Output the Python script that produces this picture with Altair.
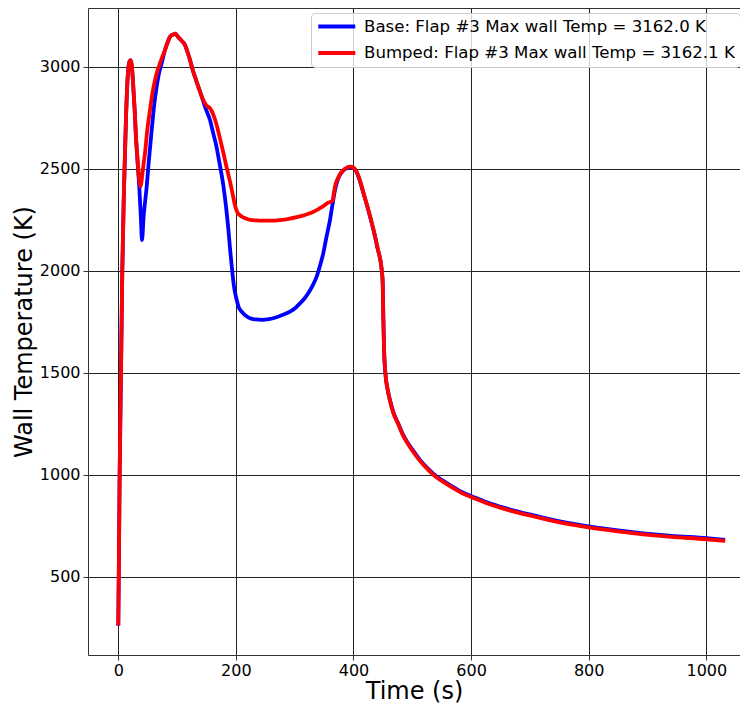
import altair as alt
import pandas as pd

base_label = "Base: Flap #3 Max wall Temp = 3162.0 K"
bumped_label = "Bumped: Flap #3 Max wall Temp = 3162.1 K"

base_time = [0, 1, 2.3, 4.6, 6.8, 9.7, 13, 16, 19, 21, 23, 25.5, 28, 30, 32.5, 35.7, 38.6, 40.3,
             43.1, 48.3, 52, 56.8, 61, 65.3, 69, 73.8, 79.4, 84, 87.9, 93.5, 97, 102, 107, 113.4,
             118, 122, 126, 130.4, 136, 139, 142, 148, 156, 161, 167, 172, 178.6, 183, 187, 190,
             193, 196.8, 201.4, 205, 210, 217, 224, 234, 244, 256, 269, 280, 292, 301, 309, 316,
             323, 330, 337.4, 343, 348.6, 354, 360, 364, 368.5, 373, 377, 382, 388, 395, 400, 405,
             411, 417, 425, 434, 441, 448, 449.7, 450.7, 452, 454.8, 458, 462, 468, 476, 483,
             490.5, 500, 513, 527, 541.5, 556, 569.7, 585, 601, 628, 655, 683, 712, 755, 800, 840,
             882, 940, 1000, 1032]
base_temp = [262, 560, 1000, 1500, 2000, 2400, 2740, 2950, 3025, 3033, 3005, 2903, 2780, 2660,
             2545, 2413, 2249, 2151, 2266, 2413, 2540, 2690, 2810, 2903, 2965, 3017, 3082, 3120,
             3147, 3158, 3162, 3145, 3130, 3107, 3070, 3033, 2990, 2951, 2903, 2880, 2853, 2800,
             2739, 2680, 2609, 2530, 2420, 2320, 2210, 2110, 2021, 1923, 1857, 1820, 1800, 1780,
             1768, 1762, 1760, 1763, 1773, 1785, 1800, 1818, 1841, 1862, 1890, 1925, 1972, 2025,
             2086, 2165, 2249, 2320, 2396, 2445, 2470, 2490, 2503, 2508, 2503, 2486, 2440, 2380,
             2300, 2200, 2110, 2004, 1939, 1776, 1612, 1482, 1420, 1367, 1305, 1253, 1205, 1165,
             1125, 1074, 1030, 992, 965, 940, 915, 896, 865, 840, 818, 798, 770, 748, 732, 717,
             702, 690, 682]

bumped_time = [0, 1, 2.3, 4.6, 6.8, 9.7, 13, 16, 19, 21, 23, 25.5, 28, 30, 32.5, 34, 36, 38.1,
               40, 42.5, 45.4, 49.3, 53.9, 58, 62.4, 66.5, 70.9, 75, 79.4, 84, 87.9, 93.5, 97,
               102, 107, 113.4, 118, 122, 126, 130.4, 136, 140, 144.6, 150, 156, 161, 167.3, 172,
               178.6, 184, 190, 195, 198.5, 202, 207, 214, 224, 235, 246.6, 260, 275, 290, 303.4,
               315, 326, 335, 343, 350, 357, 364.6, 366.5, 368.5, 373, 377, 382, 388, 395, 400,
               405, 411, 417, 425, 434, 441, 448, 449.7, 450.7, 452, 454.8, 458, 462, 468, 476,
               483, 490.5, 500, 513, 527, 541.5, 556, 569.7, 585, 601, 628, 655, 683, 712, 755,
               800, 840, 882, 940, 1000, 1032]
bumped_temp = [262, 560, 1000, 1500, 2000, 2400, 2740, 2950, 3025, 3033, 3005, 2903, 2780, 2660,
               2560, 2494, 2440, 2413, 2450, 2511, 2576, 2690, 2788, 2870, 2935, 2980, 3017, 3050,
               3082, 3120, 3147, 3158, 3162, 3145, 3130, 3107, 3070, 3033, 2990, 2951, 2903, 2870,
               2837, 2810, 2797, 2770, 2715, 2660, 2580, 2510, 2437, 2370, 2320, 2290, 2272, 2260,
               2250, 2247, 2246, 2246, 2249, 2255, 2263, 2272, 2282, 2294, 2307, 2320, 2334, 2344,
               2380, 2413, 2450, 2473, 2492, 2505, 2511, 2506, 2488, 2442, 2382, 2302, 2202, 2112,
               2006, 1939, 1776, 1612, 1482, 1418, 1365, 1302, 1250, 1201, 1161, 1120, 1069, 1025,
               987, 960, 935, 910, 891, 860, 835, 813, 793, 765, 743, 727, 712, 697, 685, 677]

x_ticks = [0, 200, 400, 600, 800, 1000]
y_ticks = [500, 1000, 1500, 2000, 2500, 3000]

base_df = pd.DataFrame({"time": base_time, "temp": base_temp, "series": base_label})
bumped_df = pd.DataFrame({"time": bumped_time, "temp": bumped_temp, "series": bumped_label})

FONT = "DejaVu Sans"
x_scale = alt.Scale(domain=[-51.5, 1057.3], nice=False, zero=False)
y_scale = alt.Scale(domain=[117.8, 3288], nice=False, zero=False)
color_scale = alt.Scale(domain=[base_label, bumped_label], range=["#0000ff", "#ff0000"])

legend = alt.Legend(
    title=None, orient="none", legendX=223, legendY=5,
    symbolType="M-3,0H3", symbolSize=152, symbolStrokeWidth=4, symbolOffset=12.3,
    labelOffset=18.7, labelFontSize=16.6, labelFont=FONT, labelColor="#000000",
    labelLimit=600, rowPadding=8.4, padding=5,
    fillColor="rgba(255,255,255,0.8)", strokeColor="#cccccc", cornerRadius=4,
)

x_axis = alt.Axis(values=x_ticks, format="d", title="Time (s)", titleFontSize=24,
                  titleFont=FONT, titleFontWeight="normal", titleColor="#000000",
                  titlePadding=1, labelFontSize=16, labelFont=FONT, labelColor="#000000",
                  labelPadding=2, tickSize=5, tickColor="#333333", domainColor="#333333",
                  grid=True, gridColor="#222222", gridWidth=1)
x_axis_top = alt.Axis(orient="top", labels=False, ticks=False, grid=False, title=None,
                      domainColor="#333333")
y_axis = alt.Axis(values=y_ticks, format="d", title="Wall Temperature (K)", titleFontSize=24,
                  titleFont=FONT, titleFontWeight="normal", titleColor="#000000",
                  titlePadding=3, labelFontSize=16, labelFont=FONT, labelColor="#000000",
                  labelPadding=3, tickSize=5, tickColor="#333333", domainColor="#333333",
                  grid=True, gridColor="#222222", gridWidth=1)

base_line = alt.Chart(base_df).mark_line(strokeWidth=3.8, interpolate="monotone").encode(
    x=alt.X("time:Q", scale=x_scale, axis=x_axis),
    y=alt.Y("temp:Q", scale=y_scale, axis=y_axis),
    color=alt.Color("series:N", scale=color_scale, legend=legend),
)
bumped_line = alt.Chart(bumped_df).mark_line(strokeWidth=3.8, interpolate="monotone").encode(
    x=alt.X("time:Q", scale=x_scale, axis=x_axis_top),
    y=alt.Y("temp:Q", scale=y_scale, axis=y_axis),
    color=alt.Color("series:N", scale=color_scale, legend=legend),
)

chart = alt.layer(base_line, bumped_line).resolve_axis(x="independent").properties(
    width=652, height=647,
    padding={"left": 80, "top": 0, "right": 0, "bottom": 50},
    autosize=alt.AutoSizeParams(type="none"),
).configure_view(stroke=None).configure(background="white")

chart.save("out.html", embed_options={"renderer": "svg", "actions": False})
